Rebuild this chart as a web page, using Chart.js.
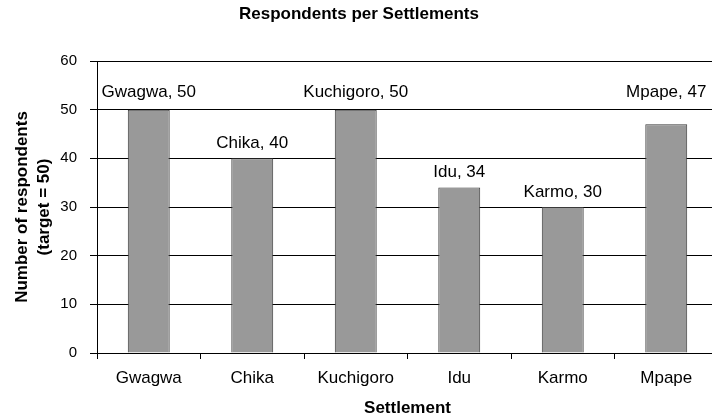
<!DOCTYPE html>
<html>
<head>
<meta charset="utf-8">
<script src="https://cdn.jsdelivr.net/npm/chart.js@4.4.1/dist/chart.umd.min.js"></script>
<style>
    html, body { margin: 0; padding: 0; background: #fff; overflow: hidden; }
    .wrap { position: relative; width: 718px; height: 420px; }
</style>
</head>
<body>
<div class="wrap"><canvas id="chart"></canvas></div>
<script>
// Data
const settlements = ['Gwagwa', 'Chika', 'Kuchigoro', 'Idu', 'Karmo', 'Mpape'];
const respondents = [50, 40, 50, 34, 30, 47];
const yTicks = [0, 10, 20, 30, 40, 50, 60];

const FONT = '"Liberation Sans", Arial, Helvetica, sans-serif';

// Writes "Name, value" above each bar (Excel style data labels)
const barLabels = {
    id: 'barLabels',
    afterDatasetsDraw(chart, args, opts) {
        const { ctx } = chart;
        const meta = chart.getDatasetMeta(0);
        ctx.save();
        ctx.font = `${opts.size}px ${FONT}`;
        ctx.fillStyle = '#000';
        ctx.textAlign = 'center';
        ctx.textBaseline = 'middle';
        meta.data.forEach((bar, i) => {
            const lift = opts.lift[i] ?? 15;
            ctx.fillText(`${settlements[i]}, ${respondents[i]}`, bar.x, bar.y - lift);
        });
        ctx.restore();
    }
};

new Chart(document.getElementById('chart'), {
    type: 'bar',
    data: {
        labels: settlements,
        datasets: [{
            data: respondents,
            backgroundColor: '#999999',
            borderColor: '#3a3a3a',
            borderWidth: 1,
            categoryPercentage: 1,
            barPercentage: 0.405
        }]
    },
    options: {
        responsive: true,
        maintainAspectRatio: false,
        animation: false,
        layout: { padding: 0 },
        plugins: {
            legend: { display: false },
            tooltip: { enabled: false },
            title: {
                display: true,
                text: 'Respondents per Settlements',
                color: '#000',
                font: { family: FONT, size: 17, weight: 'bold', lineHeight: 1.2 },
                padding: { top: 4, bottom: 36.6 }
            },
            barLabels: { size: 17, lift: [17, 15, 17, 15, 15, 32] }
        },
        scales: {
            x: {
                grid: {
                    offset: true,
                    drawOnChartArea: false,
                    drawTicks: true,
                    tickLength: 6,
                    color: '#000'
                },
                border: { color: '#000', width: 1 },
                ticks: {
                    color: '#000',
                    padding: 9,
                    maxRotation: 0,
                    font: { family: FONT, size: 17 }
                },
                title: {
                    display: true,
                    text: 'Settlement',
                    color: '#000',
                    font: { family: FONT, size: 17, weight: 'bold', lineHeight: 1.2 },
                    padding: { top: 0, bottom: 1 }
                },
                afterFit(scale) { scale.height = 67; }
            },
            y: {
                min: 0,
                max: 60,
                afterBuildTicks(scale) { scale.ticks = yTicks.map(v => ({ value: v })); },
                grid: {
                    color: '#000',
                    lineWidth: 1,
                    drawTicks: true,
                    tickLength: 7
                },
                border: { color: '#000', width: 1 },
                ticks: {
                    color: '#000',
                    padding: 13,
                    font: { family: FONT, size: 15 }
                },
                title: {
                    display: true,
                    text: ['Number of respondents', '(target = 50)'],
                    color: '#000',
                    font: { family: FONT, size: 17, weight: 'bold', lineHeight: 1.3 },
                    padding: { top: 11, bottom: 0 }
                },
                afterFit(scale) { scale.width = 97; }
            }
        }
    },
    plugins: [barLabels]
});
</script>
</body>
</html>
